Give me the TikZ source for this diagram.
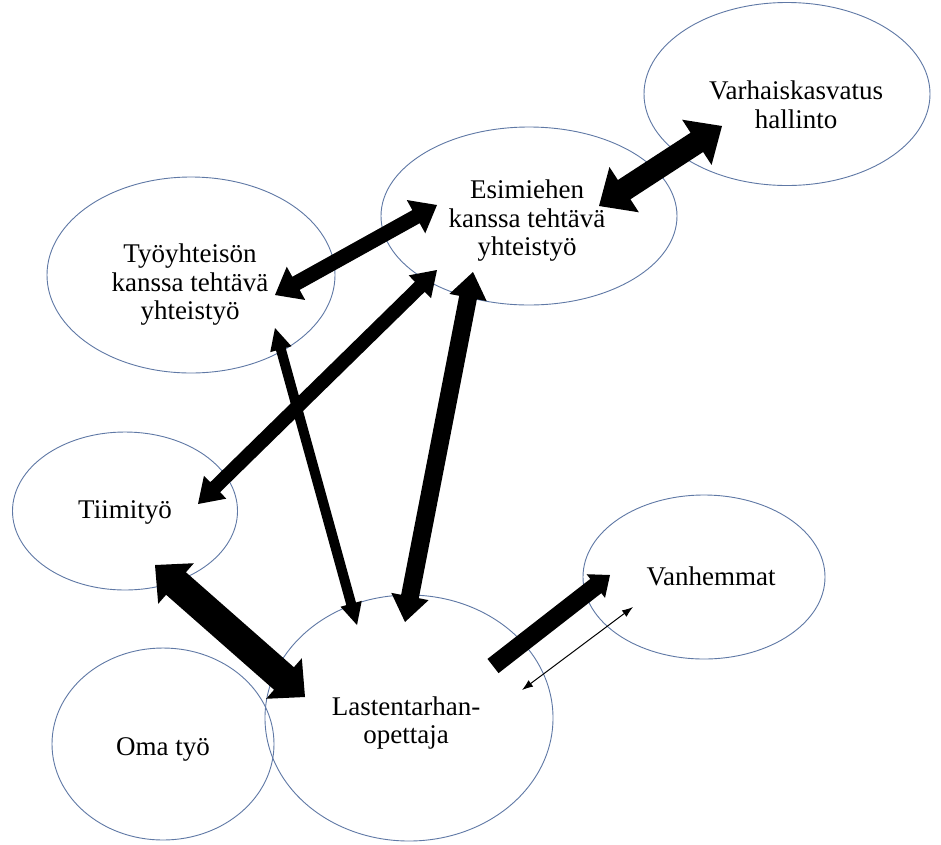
\documentclass[tikz,border=0pt]{standalone}
\usepackage{fontspec}
\setmainfont{Liberation Serif}
\usetikzlibrary{shapes.geometric,calc,arrows.meta}
\definecolor{edgeblue}{RGB}{95,120,165}
\tikzset{
  bubble/.style={ellipse, draw=edgeblue, line width=0.9pt, inner sep=0pt},
  lbl/.style={align=center, font=\fontsize{27}{28.5}\selectfont, inner sep=0pt},
  blockarrow/.style={fill=black},
  thinarrow/.style={draw=black, line width=1pt, {Latex[length=11pt,width=8pt]}-{Latex[length=11pt,width=8pt]}}
}
% double-headed block arrow: #1 from, #2 to, #3 shaft half width, #4 head half width, #5 head length
\newcommand\dblarr[5]{%
  \coordinate (ha) at ($(#1)!#5!(#2)$);
  \coordinate (hb) at ($(#2)!#5!(#1)$);
  \fill[blockarrow] (#1) -- ($(ha)!#4!90:(#2)$) -- ($(ha)!#3!90:(#2)$)
    -- ($(hb)!#3!-90:(#1)$) -- ($(hb)!#4!-90:(#1)$) -- (#2)
    -- ($(hb)!#4!90:(#1)$) -- ($(hb)!#3!90:(#1)$)
    -- ($(ha)!#3!-90:(#2)$) -- ($(ha)!#4!-90:(#2)$) -- cycle;}
% single-headed block arrow: #1 tail, #2 tip
\newcommand\sglarr[5]{%
  \coordinate (hb) at ($(#2)!#5!(#1)$);
  \fill[blockarrow] ($(#1)!#3!90:(#2)$) -- ($(hb)!#3!-90:(#1)$) -- ($(hb)!#4!-90:(#1)$)
    -- (#2) -- ($(hb)!#4!90:(#1)$) -- ($(hb)!#3!90:(#1)$) -- ($(#1)!#3!-90:(#2)$) -- cycle;}
\begin{document}
\begin{tikzpicture}[x=1pt,y=-1pt]
\useasboundingbox[fill=white] (0,0) rectangle (941,844);
% ellipses
\node[bubble, minimum width=286pt, minimum height=183pt] (var) at (787,94) {};
\node[bubble, minimum width=296pt, minimum height=178pt] (esi) at (529,216) {};
\node[bubble, minimum width=288pt, minimum height=196pt] (tyo) at (191,275) {};
\node[bubble, minimum width=225pt, minimum height=158pt] (tii) at (125,511) {};
\node[bubble, minimum width=242pt, minimum height=164pt] (van) at (704,577) {};
\node[bubble, minimum width=222pt, minimum height=192pt] (oma) at (163,744) {};
\node[bubble, minimum width=288pt, minimum height=246pt] (las) at (409,718) {};
% labels
\node[lbl] (varT) at (796,105) {Varhaiskasvatus\\hallinto};
\node[lbl] (esiT) at (527,221) {Esimiehen\\kanssa tehtävä\\yhteistyö};
\node[lbl] (tyoT) at (190,285) {Työyhteisön\\kanssa tehtävä\\yhteistyö};
\node[lbl] (tiiT) at (125,512) {Tiimityö};
\node[lbl] (vanT) at (711,576) {Vanhemmat};
\node[lbl] (omaT) at (163,749) {Oma työ};
\node[lbl] (lasT) at (406,723) {Lastentarhan-\\opettaja};
% connector end points
\coordinate (esiVar) at (599,206);
\coordinate (varEsi) at (722,126);
\coordinate (tyoEsi) at (275,295);
\coordinate (esiTyo) at (437,205);
\coordinate (esiTii) at (437,270);
\coordinate (tiiEsi) at (198,504);
\coordinate (esiLas) at (473,272);
\coordinate (lasEsi) at (405,622);
\coordinate (tyoLas) at (275,328);
\coordinate (lasTyo) at (357,625);
\coordinate (tiiLas) at (155,565);
\coordinate (lasTii) at (305,697);
\coordinate (lasVan) at (493,666);
\coordinate (vanLas) at (610,575);
\coordinate (lasVan2) at (522,690);
\coordinate (vanLas2) at (633,607);
% connectors
\dblarr{esiVar}{varEsi}{11.5pt}{27pt}{30pt}
\dblarr{tyoEsi}{esiTyo}{7.5pt}{19pt}{24pt}
\dblarr{esiTii}{tiiEsi}{7pt}{16pt}{24pt}
\dblarr{esiLas}{lasEsi}{9pt}{19pt}{26pt}
\dblarr{tyoLas}{lasTyo}{5pt}{11pt}{22pt}
\dblarr{tiiLas}{lasTii}{15pt}{27pt}{28pt}
\sglarr{lasVan}{vanLas}{9pt}{15pt}{18pt}
\draw[thinarrow] (lasVan2) -- (vanLas2);
\end{tikzpicture}
\end{document}
